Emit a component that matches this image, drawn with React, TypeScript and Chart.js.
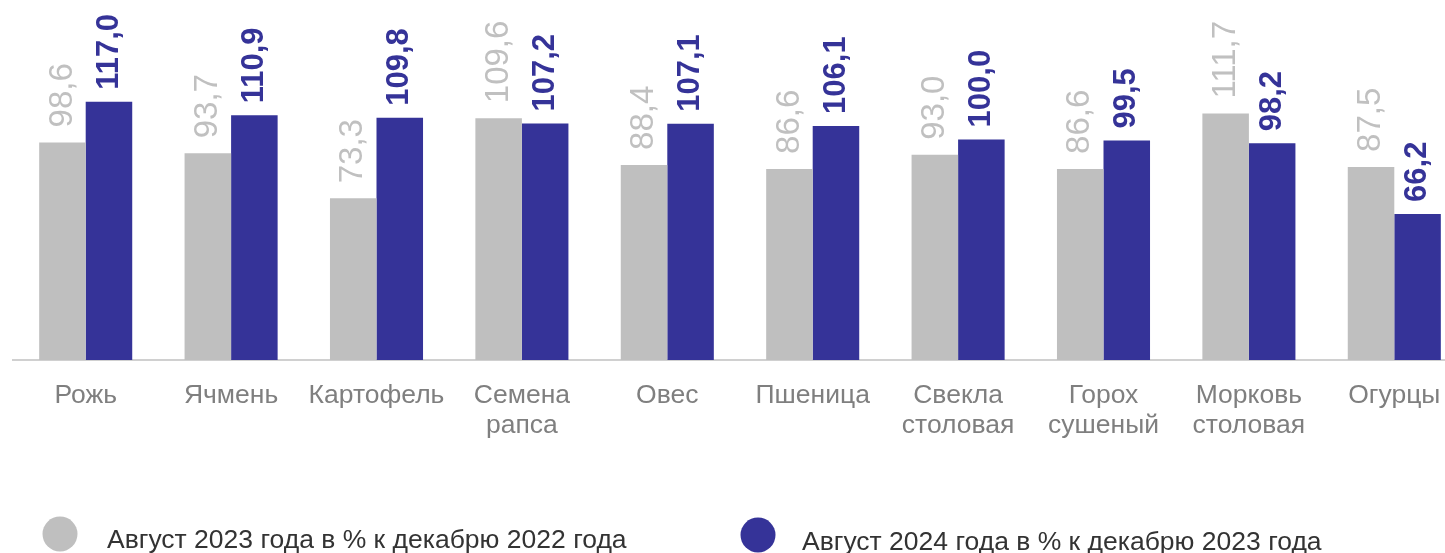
import React, { useEffect, useRef } from "react";
import { Chart, registerables } from "chart.js";

Chart.register(...registerables);

const categories: (string | string[])[] = [
  "Рожь",
  "Ячмень",
  "Картофель",
  ["Семена", "рапса"],
  "Овес",
  "Пшеница",
  ["Свекла", "столовая"],
  ["Горох", "сушеный"],
  ["Морковь", "столовая"],
  "Огурцы",
];

const series2023 = [98.6, 93.7, 73.3, 109.6, 88.4, 86.6, 93.0, 86.6, 111.7, 87.5];
const series2024 = [117.0, 110.9, 109.8, 107.2, 107.1, 106.1, 100.0, 99.5, 98.2, 66.2];

const label2023 = "Август 2023 года в % к декабрю 2022 года";
const label2024 = "Август 2024 года в % к декабрю 2023 года";

const GRAY = "#bfbfbf";
const BLUE = "#353398";
const FONT = "'Liberation Sans', Arial, sans-serif";

const fmt = (v: number) => v.toFixed(1).replace(".", ",");

const labelPlugin = {
  id: "rotLabels",
  afterDatasetsDraw(chart: any) {
    const ctx = chart.ctx;
    chart.data.datasets.forEach((ds: any, di: number) => {
      const meta = chart.getDatasetMeta(di);
      meta.data.forEach((bar: any, i: number) => {
        const v = ds.data[i];
        ctx.save();
        ctx.translate(bar.x, bar.y - (di === 0 ? 15 : 12));
        ctx.rotate(-Math.PI / 2);
        ctx.font = (di === 0 ? "normal 33px " : "bold 31px ") + FONT;
        ctx.fillStyle = di === 0 ? "#c0c0c0" : BLUE;
        ctx.textAlign = "left";
        ctx.textBaseline = "middle";
        ctx.fillText(fmt(v), 0, 0);
        ctx.restore();
      });
    });
  },
};

const legendPlugin = {
  id: "customLegend",
  afterDraw(chart: any) {
    const ctx = chart.ctx;
    const items = [
      { cx: 60, cy: 534, tx: 107, ty: 541, color: GRAY, text: chart.data.datasets[0].label },
      { cx: 758, cy: 535, tx: 802, ty: 543, color: BLUE, text: chart.data.datasets[1].label },
    ];
    items.forEach((it) => {
      ctx.save();
      ctx.beginPath();
      ctx.arc(it.cx, it.cy, 17.5, 0, Math.PI * 2);
      ctx.fillStyle = it.color;
      ctx.fill();
      ctx.font = "26.5px " + FONT;
      ctx.fillStyle = "#333333";
      ctx.textAlign = "left";
      ctx.textBaseline = "middle";
      ctx.fillText(it.text, it.tx, it.ty);
      ctx.restore();
    });
  },
};

export default function App() {
  const ref = useRef<HTMLCanvasElement | null>(null);

  useEffect(() => {
    if (!ref.current) return;
    const chart = new Chart(ref.current, {
      type: "bar",
      data: {
        labels: categories,
        datasets: [
          {
            label: label2023,
            data: series2023,
            backgroundColor: GRAY,
            categoryPercentage: 0.64,
            barPercentage: 1.0,
          },
          {
            label: label2024,
            data: series2024,
            backgroundColor: BLUE,
            categoryPercentage: 0.64,
            barPercentage: 1.0,
          },
        ],
      },
      options: {
        responsive: false,
        maintainAspectRatio: false,
        animation: false,
        layout: { padding: { top: 7, left: 13, right: 13, bottom: 0 } },
        plugins: {
          legend: { display: false },
          tooltip: { enabled: false },
        },
        scales: {
          x: {
            grid: { display: false, drawTicks: false },
            border: { display: true, color: "#d0d0d0", width: 2 },
            ticks: {
              color: "#7f7f7f",
              font: { family: FONT, size: 26.5, lineHeight: 1.12 },
              padding: 21,
              maxRotation: 0,
              autoSkip: false,
            },
            afterFit(scale: any) {
              scale.height = 193;
            },
          },
          y: {
            display: false,
            min: 0,
            max: 160,
          },
        },
      },
      plugins: [labelPlugin, legendPlugin],
    });
    return () => chart.destroy();
  }, []);

  return (
    <div
      style={{
        position: "absolute",
        left: 0,
        top: 0,
        width: 1445,
        height: 553,
        overflow: "hidden",
        background: "#fff",
      }}
    >
      <canvas ref={ref} width={1480} height={553} style={{ display: "block" }} />
    </div>
  );
}
